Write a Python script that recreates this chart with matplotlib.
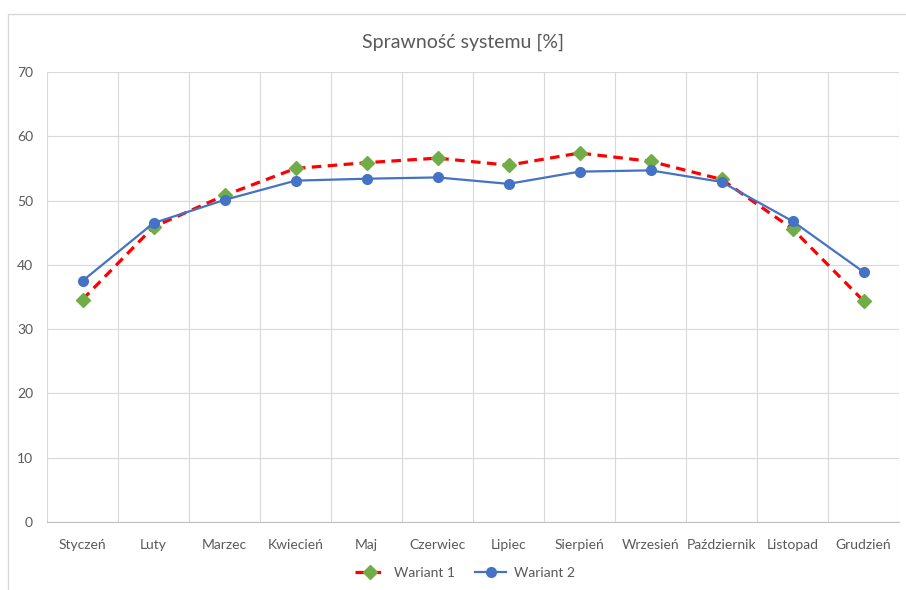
import matplotlib.pyplot as plt
from matplotlib.patches import Rectangle

months = ['Styczeń', 'Luty', 'Marzec', 'Kwiecień', 'Maj', 'Czerwiec',
          'Lipiec', 'Sierpień', 'Wrzesień', 'Październik', 'Listopad', 'Grudzień']
wariant_1 = [34.6, 45.9, 50.8, 55.0, 55.9, 56.6, 55.5, 57.4, 56.1, 53.3, 45.6, 34.4]
wariant_2 = [37.5, 46.5, 50.1, 53.1, 53.4, 53.6, 52.6, 54.5, 54.7, 52.9, 46.8, 38.9]
y_ticks = [0, 10, 20, 30, 40, 50, 60, 70]

plt.rcParams['font.family'] = ['Lato', 'DejaVu Sans']
text_col = '#595959'
grid_col = '#d9d9d9'

W, H = 906, 590
fig = plt.figure(figsize=(W / 100, H / 100), dpi=100)
ax = fig.add_axes([47 / W, (H - 522) / H, (899 - 47) / W, 450 / H])

# chart frame (right and bottom edges fall outside the image, like the screenshot)
fig.patches.append(Rectangle((8 / W, -10 / H), 920 / W, (H - 4) / H, transform=fig.transFigure,
                             fill=False, edgecolor='#d9d9d9', linewidth=1))

x = range(len(months))
ax.plot(x, wariant_1, color='#ff0000', linestyle=(0, (3, 2)), linewidth=2.3,
        marker='D', markersize=7, markerfacecolor='#70ad47', markeredgecolor='#70ad47',
        label='Wariant 1', zorder=3)
ax.plot(x, wariant_2, color='#4472c4', linewidth=1.6,
        marker='o', markersize=7, markerfacecolor='#4472c4', markeredgecolor='#4472c4',
        label='Wariant 2', zorder=4)

ax.set_xlim(-0.5, len(months) - 0.5)
ax.set_ylim(0, 70)
ax.set_yticks(y_ticks)
ax.set_xticks(list(x))
ax.set_xticklabels(months)
ax.set_xticks([i - 0.5 for i in range(len(months) + 1)], minor=True)

ax.grid(True, axis='y', color=grid_col, linewidth=0.8)
ax.grid(True, axis='x', which='minor', color=grid_col, linewidth=0.8)
ax.set_axisbelow(True)
for side in ['top', 'right', 'left']:
    ax.spines[side].set_visible(False)
ax.spines['bottom'].set_color('#bfbfbf')
ax.tick_params(axis='both', which='both', length=0, labelsize=10, labelcolor=text_col)
ax.tick_params(axis='x', pad=12)
ax.tick_params(axis='y', pad=10)

fig.text(463 / W, 1 - 42 / H, 'Sprawność systemu [%]', ha='center', va='center',
         fontsize=14, color=text_col)

fig.legend(loc='center', bbox_to_anchor=(465 / W, 1 - 573 / H), ncol=2, frameon=False,
           fontsize=10, labelcolor=text_col, handlelength=2.2, columnspacing=1.5,
           handletextpad=0.6)

fig.savefig('out.png', dpi=100)
